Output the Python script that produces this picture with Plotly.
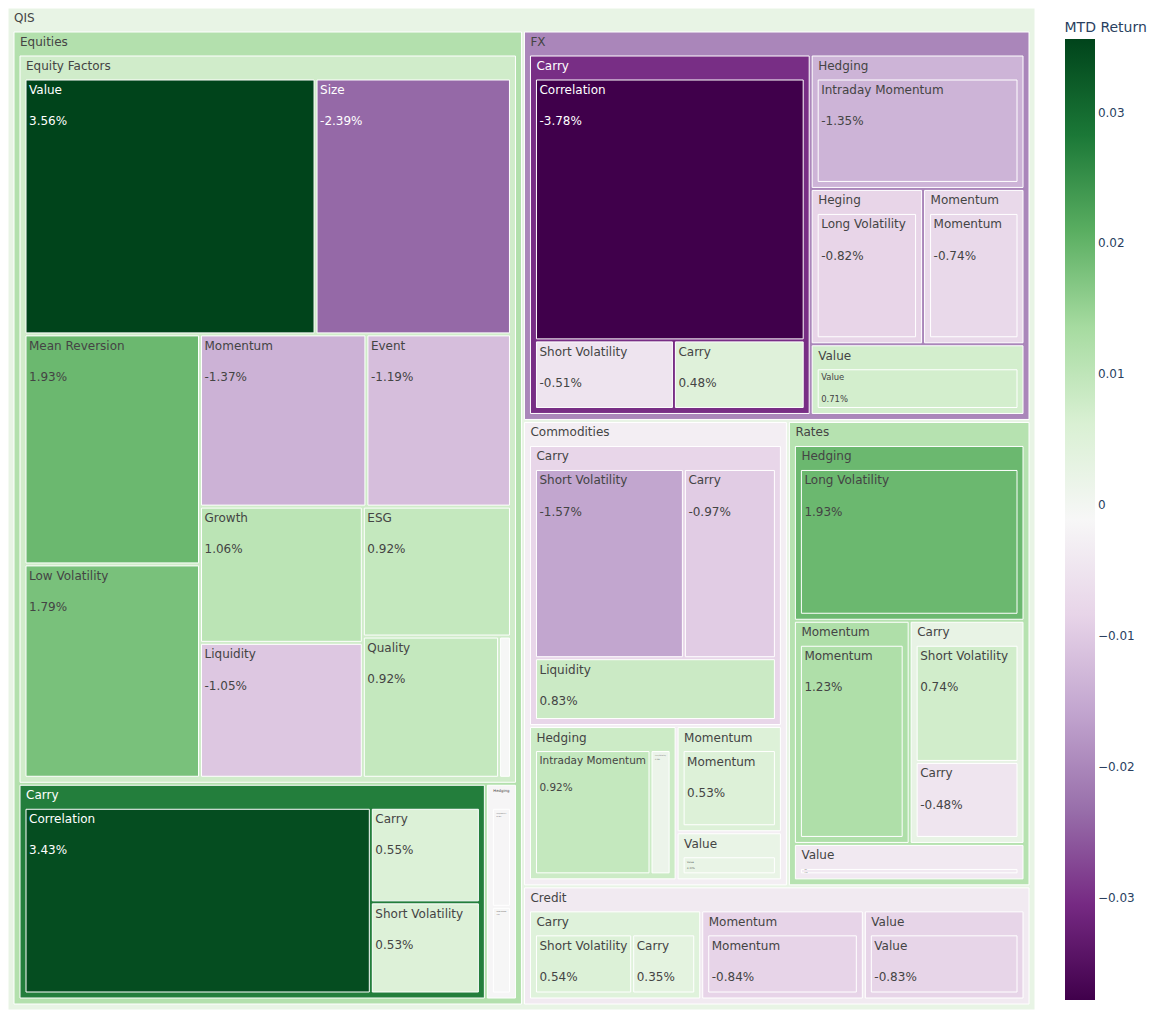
import pandas as pd
import plotly.express as px

# MTD returns per strategy (fractions), tile size = |return|
asset_class = (
    ["Equities"] * 16
    + ["FX"] * 7
    + ["Commodities"] * 7
    + ["Rates"] * 5
    + ["Credit"] * 4
)
style = (
    ["Equity Factors"] * 11 + ["Carry"] * 3 + ["Hedging"] * 2
    + ["Carry"] * 3 + ["Hedging", "Heging", "Momentum", "Value"]
    + ["Carry"] * 3 + ["Hedging"] * 2 + ["Momentum", "Value"]
    + ["Hedging", "Momentum", "Carry", "Carry", "Value"]
    + ["Carry", "Carry", "Momentum", "Value"]
)
strategy = [
    "Value", "Size", "Mean Reversion", "Low Volatility", "Momentum", "Event",
    "Growth", "Liquidity", "ESG", "Quality", "Dividend",
    "Correlation", "Carry", "Short Volatility",
    "Long Volatility", "Intraday Momentum",
    "Correlation", "Short Volatility", "Carry",
    "Intraday Momentum", "Long Volatility", "Momentum", "Value",
    "Short Volatility", "Carry", "Liquidity",
    "Intraday Momentum", "Long Volatility", "Momentum", "Value",
    "Long Volatility", "Momentum", "Short Volatility", "Carry", "Value",
    "Short Volatility", "Carry", "Momentum", "Value",
]
mtd_return = [
    0.0356, -0.0239, 0.0193, 0.0179, -0.0137, -0.0119,
    0.0106, -0.0105, 0.0092, 0.0092, -0.0008,
    0.0343, 0.0055, 0.0053,
    -0.0016, -0.0014,
    -0.0378, -0.0051, 0.0048,
    -0.0135, -0.0082, -0.0074, 0.0071,
    -0.0157, -0.0097, 0.0083,
    0.0092, 0.0016, 0.0053, 0.0024,
    0.0193, 0.0123, 0.0074, -0.0048, -0.0040,
    0.0054, 0.0035, -0.0084, -0.0083,
]

df = pd.DataFrame({
    "Asset Class": asset_class,
    "Style": style,
    "Strategy": strategy,
    "MTD Return": mtd_return,
})
df["Size"] = df["MTD Return"].abs()
df["Return"] = df["MTD Return"]

fig = px.treemap(
    df,
    path=[px.Constant("QIS"), "Asset Class", "Style", "Strategy"],
    values="Size",
    color="MTD Return",
    color_continuous_scale="PRGn",
    custom_data=["Return"],
)
fig.update_traces(texttemplate="%{label}<br><br>%{customdata[0]:.2%}")
fig.update_layout(
    font=dict(family="DejaVu Sans", size=12),
    margin=dict(t=0, l=0, r=0, b=0),
    width=1149,
    height=1002,
)

fig.write_html("out.html")
